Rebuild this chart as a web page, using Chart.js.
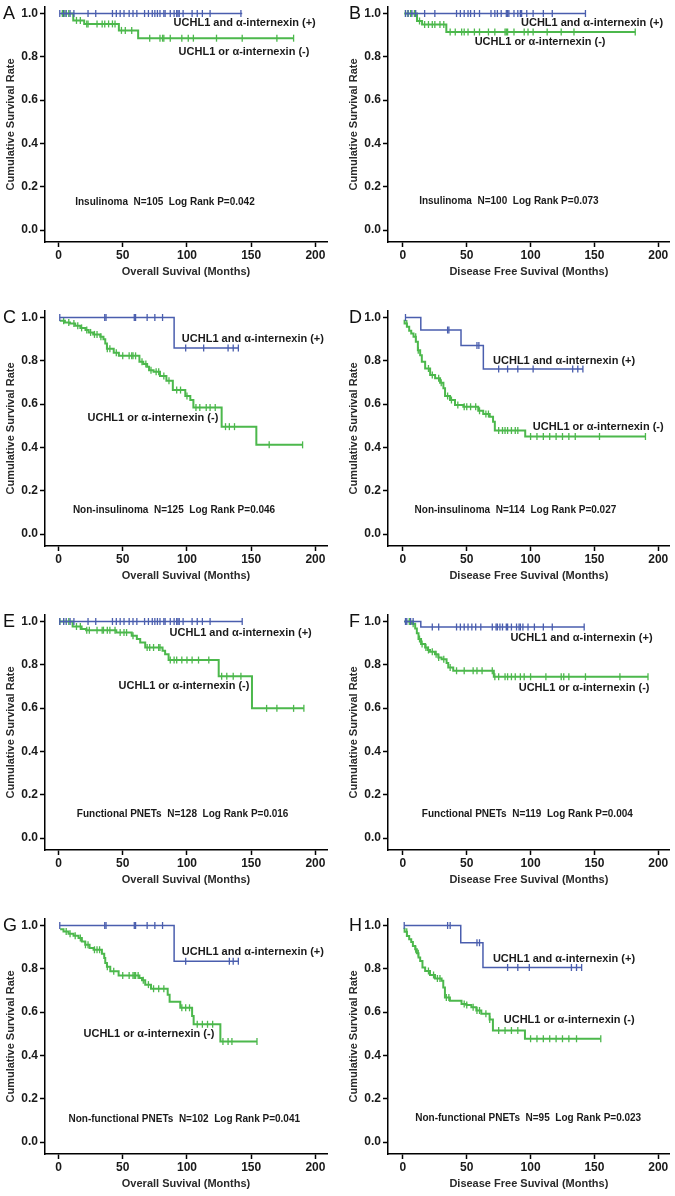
<!DOCTYPE html>
<html>
<head>
<meta charset="utf-8">
<script src="https://cdn.jsdelivr.net/npm/chart.js@4/dist/chart.umd.min.js"></script>
<style>
  html, body { margin: 0; padding: 0; background: #fff; }
  body { width: 675px; height: 1196px; position: relative; overflow: hidden; }
  canvas { position: absolute; }
</style>
</head>
<body>
<script>
// ===============================
// Shared labels / ticks
// ===============================
const xTickVals = [0, 50, 100, 150, 200];
const yTickVals = [0, 0.2, 0.4, 0.6, 0.8, 1.0];
const osTitle = 'Overall Suvival (Months)';
const dfsTitle = 'Disease Free Suvival (Months)';
const yTitle = 'Cumulative Survival Rate';
const posLabel = 'UCHL1 and α-internexin (+)';
const negLabel = 'UCHL1 or α-internexin (-)';

// ===============================
// Panel data (time in months, survival)
// pos = UCHL1 and α-internexin (+), neg = UCHL1 or α-internexin (-)
// ===============================
// A  Insulinoma OS
const aPosT = [1, 143];
const aPosS = [1, 1];
const aPosC = [1, 4, 6, 9, 12, 23, 29, 42, 45, 48, 51, 55, 58, 61, 67, 70, 73, 75, 77, 79, 82, 83, 87, 90, 92, 93, 94, 97, 104, 108, 112, 118, 142];
const aNegT = [2, 11.5, 20, 47, 62, 183];
const aNegS = [1, 0.968, 0.952, 0.922, 0.886, 0.886];
const aNegC = [3, 5, 8, 14, 17, 22, 23, 30, 34, 36, 39, 42, 44, 49, 52, 57, 71, 79, 81, 82, 87, 96, 101, 105, 123, 143, 170, 183];

// B  Insulinoma DFS
const bPosT = [2, 143];
const bPosS = [1, 1];
const bPosC = [2, 4, 7, 10, 17, 25, 42, 45, 48, 51, 53, 56, 60, 69, 72, 74, 77, 81, 82, 83, 87, 90, 92, 93, 97, 102, 110, 117, 143];
const bNegT = [1, 11, 15, 34, 182];
const bNegS = [1, 0.965, 0.949, 0.915, 0.915];
const bNegC = [2, 4, 6, 9, 13, 17, 20, 23, 25, 29, 32, 37, 41, 46, 48, 51, 56, 60, 67, 72, 80, 81, 82, 87, 95, 98, 102, 113, 124, 134, 182];

// C  Non-insulinoma OS
const cPosT = [1, 90, 140];
const cPosS = [1, 0.859, 0.859];
const cPosC = [1, 36, 37, 59, 60, 69, 75, 81, 99, 113, 132, 136, 140];
const cNegT = [1, 5, 9, 13, 17, 21, 23.5, 27, 32.5, 35, 36.4, 37.7, 43, 47, 63, 66, 69, 70.5, 74, 79, 84, 89, 98.7, 102.6, 105, 127, 154, 190];
const cNegS = [0.985, 0.977, 0.972, 0.962, 0.952, 0.942, 0.931, 0.922, 0.911, 0.9, 0.88, 0.856, 0.837, 0.823, 0.796, 0.785, 0.773, 0.757, 0.75, 0.73, 0.708, 0.665, 0.637, 0.619, 0.585, 0.496, 0.412, 0.412];
const cNegC = [4, 8, 12, 15, 18, 22, 25, 28, 30, 33, 38, 40, 45, 50, 55, 57, 58, 60, 65, 68, 72, 76, 78, 82, 86, 92, 95, 100, 107, 110, 115, 118, 122, 130, 133, 137, 164, 190];

// D  Non-insulinoma DFS
const dPosT = [2, 14, 45.5, 63, 141];
const dPosS = [1, 0.942, 0.871, 0.762, 0.762];
const dPosC = [2, 35, 36, 58, 59.5, 75, 82, 90, 102, 133, 137, 141];
const dNegT = [0.5, 1.3, 3.1, 4.9, 6.5, 8.3, 10.1, 11.7, 13.5, 14.8, 17.4, 21.3, 25.2, 29.1, 31.7, 33, 36.9, 40.8, 47.3, 59, 62.9, 68, 70.6, 72, 95.8, 190];
const dNegS = [0.985, 0.972, 0.957, 0.939, 0.926, 0.911, 0.888, 0.849, 0.826, 0.796, 0.765, 0.734, 0.719, 0.699, 0.673, 0.637, 0.619, 0.596, 0.588, 0.57, 0.555, 0.542, 0.519, 0.478, 0.45, 0.45];
const dNegC = [3, 10, 12, 20, 23, 28, 30, 35, 38, 43, 48, 50, 53, 57, 60, 65, 67, 75, 78, 80, 82, 85, 88, 90, 100, 105, 110, 115, 120, 125, 130, 135, 154, 190];

// E  Functional PNETs OS
const ePosT = [1, 143];
const ePosS = [1, 1];
const ePosC = [1, 4, 6, 9, 12, 23, 29, 42, 45, 48, 51, 55, 58, 61, 67, 70, 73, 75, 77, 79, 82, 83, 87, 90, 92, 93, 94, 97, 104, 108, 112, 118, 143];
const eNegT = [1, 11, 18, 21.5, 45, 57, 61, 63.6, 67.5, 81, 83, 85.7, 124.7, 150.6, 191];
const eNegS = [1, 0.977, 0.965, 0.96, 0.949, 0.934, 0.919, 0.903, 0.88, 0.865, 0.849, 0.822, 0.747, 0.599, 0.599];
const eNegC = [1, 4, 8, 14, 17, 22, 24, 30, 34, 35, 38, 40, 44, 48, 51, 53, 58, 69, 71, 74, 78, 79, 87, 90, 92, 96, 100, 104, 109, 117, 127, 131, 136, 142, 162, 170, 183, 191];

// F  Functional PNETs DFS
const fPosT = [1, 14, 142];
const fPosS = [1, 0.975, 0.975];
const fPosC = [2, 3, 6, 8, 23, 28, 42, 45, 48, 51, 54, 57, 61, 70, 73, 74, 76, 78, 81, 82, 85, 89, 91, 92, 94, 98, 103, 110, 117, 142];
const fNegT = [1, 7, 9.6, 10.9, 12.2, 14.2, 17.4, 19.4, 21.2, 25.1, 27.7, 30.3, 34.2, 35.5, 39.4, 71.2, 192];
const fNegS = [1, 0.99, 0.968, 0.946, 0.919, 0.896, 0.88, 0.868, 0.86, 0.849, 0.834, 0.826, 0.808, 0.788, 0.773, 0.745, 0.745];
const fNegC = [5, 8, 13, 15, 18, 20, 23, 26, 28, 32, 37, 42, 48, 55, 58, 62, 70, 72, 75, 80, 82, 85, 88, 92, 95, 100, 112, 124, 126, 130, 143, 170, 192];

// G  Non-functional PNETs OS
const gPosT = [1, 90, 140];
const gPosS = [1, 0.835, 0.835];
const gPosC = [1, 36, 37, 59, 60, 69, 75, 81, 99, 133, 136, 140];
const gNegT = [1.3, 3.9, 7.8, 11.7, 15.6, 18.2, 20.8, 24.2, 27.3, 33.8, 35.6, 36.4, 37.7, 40.3, 46.8, 63, 65, 67.5, 72, 85, 86.5, 94.8, 104, 105.2, 126, 154.5];
const gNegS = [0.983, 0.972, 0.962, 0.953, 0.942, 0.926, 0.911, 0.896, 0.888, 0.87, 0.85, 0.827, 0.809, 0.789, 0.769, 0.758, 0.747, 0.727, 0.708, 0.68, 0.648, 0.62, 0.582, 0.544, 0.464, 0.464];
const gNegC = [6, 9, 13, 17, 21, 23, 28, 30, 32, 38, 43, 50, 55, 58, 59, 60, 62, 66, 70, 74, 78, 82, 96, 99, 102, 108, 112, 116, 120, 128, 132, 135, 154.5];

// H  Non-functional PNETs DFS
const hPosT = [1, 45.3, 62.7, 140];
const hPosS = [1, 0.92, 0.806, 0.806];
const hPosC = [1, 35, 37, 58, 60, 82, 90, 99, 132, 136, 140];
const hNegT = [0.5, 1.3, 3.1, 4.9, 6.5, 7.8, 9.6, 10.9, 12.2, 13.5, 15.3, 17.4, 21.2, 25.1, 30.3, 31.6, 32.9, 36.8, 45.9, 49.7, 53.6, 57.5, 61.4, 67.9, 70.5, 95.6, 154.7];
const hNegS = [0.985, 0.971, 0.951, 0.936, 0.924, 0.905, 0.89, 0.872, 0.852, 0.836, 0.806, 0.79, 0.771, 0.755, 0.745, 0.714, 0.668, 0.653, 0.638, 0.633, 0.622, 0.607, 0.592, 0.566, 0.515, 0.477, 0.477];
const hNegC = [3, 10, 12, 20, 24, 27, 29, 34, 36, 48, 50, 55, 58, 60, 65, 68, 75, 80, 85, 90, 100, 105, 110, 115, 120, 125, 130, 136, 155];

// ===============================
// Panel setup
// ===============================
const FONT = "'Liberation Sans', Arial, sans-serif";
const BLUE = '#4a5eae';
const GREEN = '#4cb84c';
const rowTops = [0, 304, 608, 912];

const panels = [
  { letter: 'A', col: 0, row: 0, xTitle: osTitle, pos: [aPosT, aPosS, aPosC], neg: [aNegT, aNegS, aNegC],
    notes: [[89.6, 0.954, posLabel], [93.5, 0.823, negLabel]], info: [13, 0.128, 'Insulinoma  N=105  Log Rank P=0.042'] },
  { letter: 'B', col: 1, row: 0, xTitle: dfsTitle, pos: [bPosT, bPosS, bPosC], neg: [bNegT, bNegS, bNegC],
    notes: [[92.5, 0.954, posLabel], [56.2, 0.869, negLabel]], info: [12.7, 0.131, 'Insulinoma  N=100  Log Rank P=0.073'] },
  { letter: 'C', col: 0, row: 1, xTitle: osTitle, pos: [cPosT, cPosS, cPosC], neg: [cNegT, cNegS, cNegC],
    notes: [[96, 0.903, posLabel], [22.6, 0.538, negLabel]], info: [11.2, 0.112, 'Non-insulinoma  N=125  Log Rank P=0.046'] },
  { letter: 'D', col: 1, row: 1, xTitle: dfsTitle, pos: [dPosT, dPosS, dPosC], neg: [dNegT, dNegS, dNegC],
    notes: [[70.6, 0.799, posLabel], [101.8, 0.495, negLabel]], info: [9.1, 0.112, 'Non-insulinoma  N=114  Log Rank P=0.027'] },
  { letter: 'E', col: 0, row: 2, xTitle: osTitle, pos: [ePosT, ePosS, ePosC], neg: [eNegT, eNegS, eNegC],
    notes: [[86.5, 0.946, posLabel], [46.8, 0.704, negLabel]], info: [14.3, 0.108, 'Functional PNETs  N=128  Log Rank P=0.016'] },
  { letter: 'F', col: 1, row: 2, xTitle: dfsTitle, pos: [fPosT, fPosS, fPosC], neg: [fNegT, fNegS, fNegC],
    notes: [[84.2, 0.926, posLabel], [90.7, 0.693, negLabel]], info: [14.8, 0.108, 'Functional PNETs  N=119  Log Rank P=0.004'] },
  { letter: 'G', col: 0, row: 3, xTitle: osTitle, pos: [gPosT, gPosS, gPosC], neg: [gNegT, gNegS, gNegC],
    notes: [[96, 0.88, posLabel], [19.5, 0.5, negLabel]], info: [7.8, 0.107, 'Non-functional PNETs  N=102  Log Rank P=0.041'] },
  { letter: 'H', col: 1, row: 3, xTitle: dfsTitle, pos: [hPosT, hPosS, hPosC], neg: [hNegT, hNegS, hNegC],
    notes: [[70.5, 0.847, posLabel], [79, 0.564, negLabel]], info: [9.6, 0.11, 'Non-functional PNETs  N=95  Log Rank P=0.023'] }
];

// survival value of a step curve at time t
function survAt(times, surv, t) {
  let v = surv[0];
  for (let i = 0; i < times.length; i++) {
    if (times[i] <= t) v = surv[i];
  }
  return v;
}

function curve(times, surv) {
  return times.map((t, i) => ({ x: t, y: surv[i] }));
}

function censors(times, surv, cens) {
  return cens.map(c => ({ x: c, y: survAt(times, surv, c) }));
}

function lineSet(g, color, width) {
  return {
    data: curve(g[0], g[1]), showLine: true, stepped: true, pointRadius: 0,
    borderColor: color, borderWidth: width, fill: false
  };
}

function censorSet(g, color) {
  return {
    data: censors(g[0], g[1], g[2]), showLine: false, pointStyle: 'line', rotation: 90,
    pointRadius: 3.5, borderColor: color, pointBorderWidth: 1.3, backgroundColor: color
  };
}

// text inside the plot area + panel letter
const notesPlugin = {
  id: 'notes',
  afterDatasetsDraw(chart) {
    const p = chart.config.options.plugins.notes;
    const { ctx, scales } = chart;
    ctx.save();
    ctx.fillStyle = '#1a1a1a';
    ctx.textAlign = 'left';
    ctx.textBaseline = 'middle';
    ctx.font = 'bold 11px ' + FONT;
    p.notes.forEach(n => {
      ctx.fillText(n[2], scales.x.getPixelForValue(n[0]), scales.y.getPixelForValue(n[1]));
    });
    ctx.font = 'bold 10px ' + FONT;
    ctx.fillText(p.info[2], scales.x.getPixelForValue(p.info[0]), scales.y.getPixelForValue(p.info[1]));
    ctx.textBaseline = 'alphabetic';
    ctx.font = '18px ' + FONT;
    ctx.fillStyle = '#111';
    ctx.fillText(p.letter, p.col === 0 ? 3 : 6, 19);
    ctx.restore();
  }
};

function makePanel(p) {
  const cv = document.createElement('canvas');
  const left = p.col === 0 ? 0 : 343;
  const w = p.col === 0 ? 337 : 332;
  cv.width = w;
  cv.height = 283;
  cv.style.left = left + 'px';
  cv.style.top = rowTops[p.row] + 'px';
  document.body.appendChild(cv);

  const tickFont = { family: FONT, size: 12, weight: 'bold' };
  const titleFont = { family: FONT, size: 11, weight: 'bold' };

  new Chart(cv.getContext('2d'), {
    type: 'scatter',
    data: {
      datasets: [
        lineSet(p.pos, BLUE, 1.5),
        censorSet(p.pos, BLUE),
        lineSet(p.neg, GREEN, 2),
        censorSet(p.neg, GREEN)
      ]
    },
    plugins: [notesPlugin],
    options: {
      responsive: false,
      animation: false,
      layout: { padding: { top: 7, left: 0, right: p.col === 0 ? 10 : 3, bottom: 0 } },
      plugins: {
        legend: { display: false },
        tooltip: { enabled: false },
        notes: { notes: p.notes, info: p.info, letter: p.letter, col: p.col }
      },
      scales: {
        x: {
          type: 'linear',
          min: p.col === 0 ? -10.5 : -11.7,
          max: 209,
          afterBuildTicks: s => { s.ticks = xTickVals.map(v => ({ value: v })); },
          afterFit: s => { s.height = 41; s.paddingLeft = 0; s.paddingRight = 0; },
          grid: { display: true, drawOnChartArea: false, drawTicks: true, tickLength: 5, tickWidth: 1.5, tickColor: '#000' },
          border: { display: true, color: '#000', width: 1.5 },
          ticks: { color: '#1a1a1a', font: tickFont, padding: 1, maxRotation: 0, autoSkip: false },
          title: { display: true, text: p.xTitle, color: '#2a2a2a', font: titleFont, padding: { top: 0, bottom: 4 } }
        },
        y: {
          type: 'linear',
          min: -0.055,
          max: 1.03,
          afterBuildTicks: s => { s.ticks = yTickVals.map(v => ({ value: v })); },
          afterFit: s => { s.width = 45; s.paddingTop = 0; s.paddingBottom = 0; },
          grid: { display: true, drawOnChartArea: false, drawTicks: true, tickLength: 5, tickWidth: 1.5, tickColor: '#000' },
          border: { display: true, color: '#000', width: 1.5 },
          ticks: { color: '#1a1a1a', font: tickFont, padding: 2, callback: v => v.toFixed(1) },
          title: { display: true, text: yTitle, color: '#2a2a2a', font: titleFont, padding: { top: 4, bottom: 0 } }
        }
      }
    }
  });
}

panels.forEach(makePanel);
</script>
</body>
</html>
